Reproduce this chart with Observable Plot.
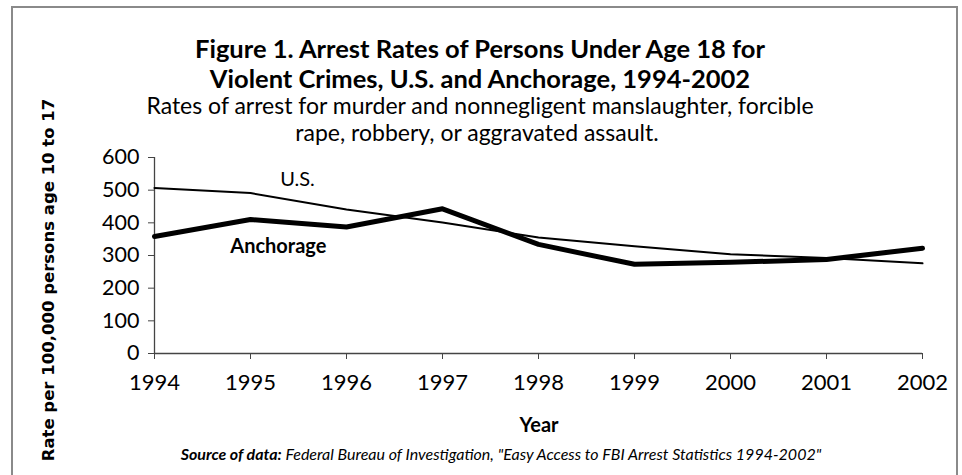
<!DOCTYPE html>
<html>
<head>
<meta charset="utf-8">
<script src="https://cdn.jsdelivr.net/npm/d3@7"></script>
<script src="https://cdn.jsdelivr.net/npm/@observablehq/plot@0.6"></script>
<style>
  html, body { margin: 0; padding: 0; background: #fff; overflow: hidden; }
  #wrap { position: relative; width: 962px; height: 475px; overflow: hidden; font-family: Lato, "Open Sans", sans-serif; color: #000; }
  #frame { position: absolute; left: 11px; top: 6px; width: 947px; height: 480px; border: 2px solid #8a8a8a; box-sizing: border-box; }
  .t { position: absolute; white-space: nowrap; transform: translate(-50%, -50%); line-height: 1; }
  #chart { position: absolute; left: 0; top: 0; }
</style>
</head>
<body>
<div id="wrap">
  <div id="frame"></div>
  <div id="chart"></div>
  <div class="t" style="left:480px;top:49px;font-weight:700;font-size:25.5px;">Figure 1. Arrest Rates of Persons Under Age 18 for</div>
  <div class="t" style="left:480px;top:79px;font-weight:700;font-size:25.5px;">Violent Crimes, U.S. and Anchorage, 1994-2002</div>
  <div class="t" style="left:480px;top:105px;font-size:23px;">Rates of arrest for murder and nonnegligent manslaughter, forcible</div>
  <div class="t" style="left:477px;top:132px;font-size:23px;">rape, robbery, or aggravated assault.</div>
  <div class="t" style="left:539px;top:424px;font-weight:700;font-size:20px;">Year</div>
  <div class="t" style="left:501px;top:454px;font-size:16px;font-style:italic;"><b>Source of data:</b> Federal Bureau of Investigation, "Easy Access to FBI Arrest Statistics 1994-2002"</div>
  <div class="t" style="left:49px;top:280px;transform:translate(-50%,-50%) rotate(-90deg);font-family:'DejaVu Sans';font-weight:700;font-size:16.5px;">Rate per 100,000 persons age 10 to 17</div>
</div>
<script>
const years = [1994, 1995, 1996, 1997, 1998, 1999, 2000, 2001, 2002];
const usRates = [507, 491, 441, 401, 355, 328, 304, 292, 276];
const anchorageRates = [358, 410, 387, 443, 334, 273, 279, 288, 322];
const yTicks = [0, 100, 200, 300, 400, 500, 600];
const seriesLabels = ["U.S.", "Anchorage"];
const labelYears = [1995.49, 1995.29];
const labelValues = [531, 327];

const us = years.map((y, i) => ({year: y, rate: usRates[i]}));
const anc = years.map((y, i) => ({year: y, rate: anchorageRates[i]}));
const labels = seriesLabels.map((s, i) => ({name: s, year: labelYears[i], rate: labelValues[i], bold: i === 1}));

const chart = Plot.plot({
  width: 962,
  height: 475,
  marginLeft: 154,
  marginRight: 40,
  marginTop: 157,
  marginBottom: 122,
  style: {fontFamily: "Lato, 'Open Sans', sans-serif", color: "#000", background: "transparent", overflow: "visible"},
  x: {domain: [1994, 2002]},
  y: {domain: [0, 600]},
  marks: [
    Plot.axisX({ticks: years, tickFormat: d => String(d), tickSize: 6, tickPadding: 15, fontSize: 22, label: null, stroke: "#444"}),
    Plot.axisY({ticks: yTicks, tickSize: 6, tickPadding: 9, fontSize: 21.5, label: null, stroke: "#444"}),
    Plot.ruleX([1994], {stroke: "#444", strokeWidth: 1.3}),
    Plot.ruleY([0], {stroke: "#444", strokeWidth: 1.3}),
    Plot.line(us, {x: "year", y: "rate", stroke: "#000", strokeWidth: 2}),
    Plot.line(anc, {x: "year", y: "rate", stroke: "#000", strokeWidth: 5, strokeLinejoin: "round"}),
    Plot.text(labels.filter(d => !d.bold), {x: "year", y: "rate", text: "name", fontSize: 20, fill: "#000"}),
    Plot.text(labels.filter(d => d.bold), {x: "year", y: "rate", text: "name", fontSize: 20, fontWeight: 700, fill: "#000"})
  ]
});
document.getElementById("chart").appendChild(chart);
</script>
</body>
</html>
